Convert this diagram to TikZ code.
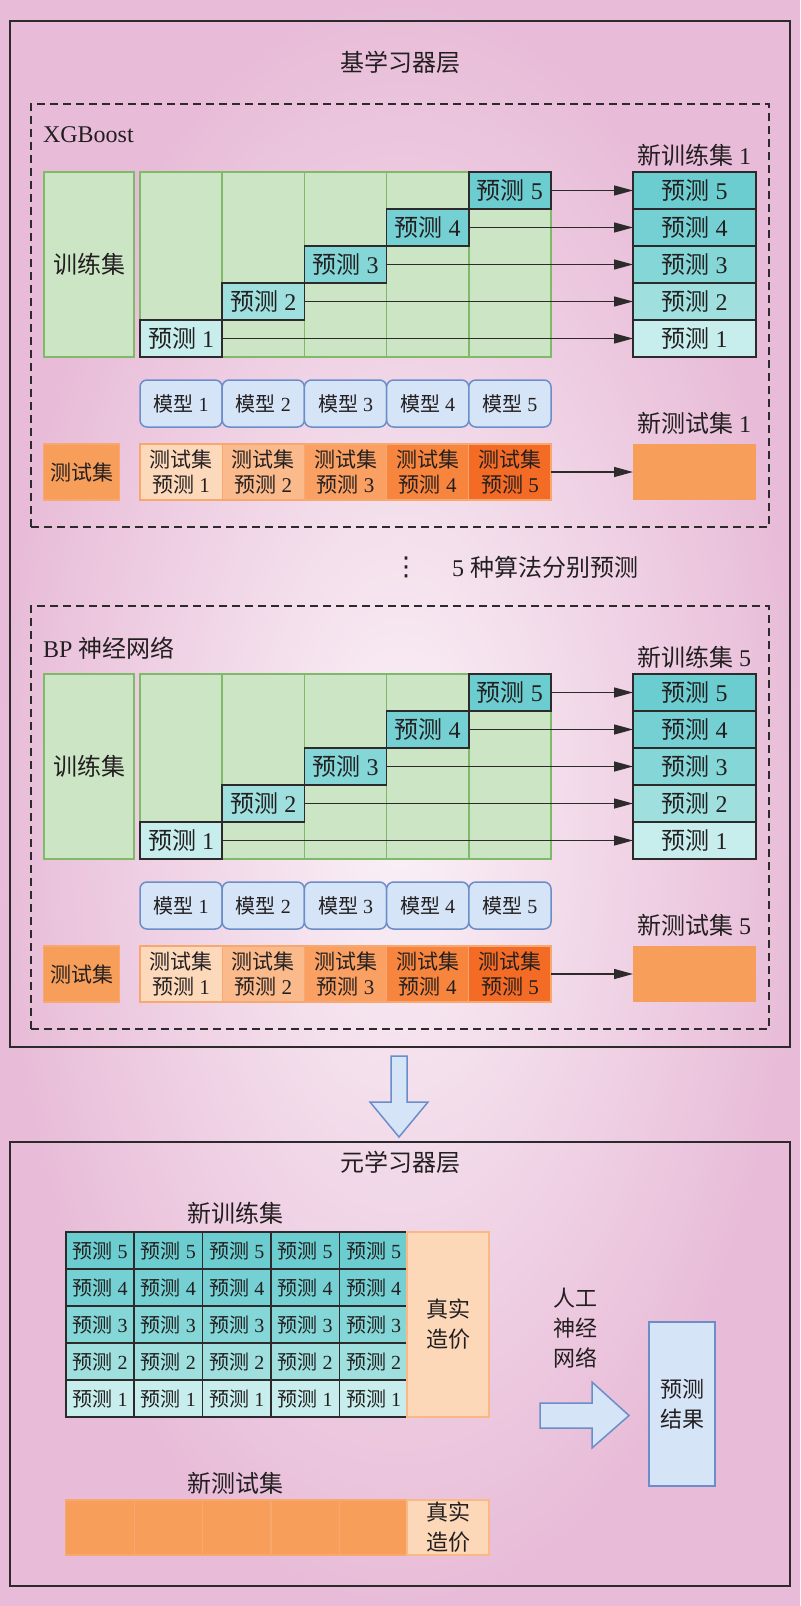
\documentclass[tikz,border=0pt]{standalone}
\usepackage{fontspec}
\setmainfont{Liberation Serif}
\newfontfamily\cjk{Noto Sans CJK SC}
\newfontfamily\dejavu{DejaVu Sans}
\usetikzlibrary{arrows.meta}
\definecolor{txt}{RGB}{35,31,32}
\definecolor{bgin}{RGB}{250,242,247}
\definecolor{bgout}{RGB}{232,188,216}
\definecolor{gfill}{RGB}{203,229,197}
\definecolor{gline}{RGB}{126,186,104}
\definecolor{pc1}{RGB}{199,238,236}
\definecolor{pc2}{RGB}{159,223,222}
\definecolor{pc3}{RGB}{132,214,215}
\definecolor{pc4}{RGB}{116,208,211}
\definecolor{pc5}{RGB}{108,205,208}
\definecolor{mfill}{RGB}{213,228,247}
\definecolor{mline}{RGB}{107,141,200}
\definecolor{tc1}{RGB}{253,217,187}
\definecolor{tc2}{RGB}{250,186,140}
\definecolor{tc3}{RGB}{249,160,98}
\definecolor{tc4}{RGB}{247,133,61}
\definecolor{tc5}{RGB}{244,107,38}
\definecolor{tline}{RGB}{248,168,110}
\definecolor{ofill}{RGB}{247,158,90}
\definecolor{pfill}{RGB}{252,216,185}
\definecolor{pline}{RGB}{249,184,132}
\definecolor{dline}{RGB}{45,42,44}
\newcommand\fsL{\fontsize{12}{14}\selectfont}
\newcommand\fsM{\fontsize{11}{15}\selectfont}
\newcommand\fsT{\fontsize{10.5}{12.5}\selectfont}
\newcommand\fsS{\fontsize{10}{12}\selectfont}
\newcommand\yc[1]{{\cjk 预测}\ #1}
\tikzset{
  every node/.style={text=txt,inner sep=0pt,outer sep=0pt},
  dashbox/.style={draw=dline,line width=0.65pt,dash pattern=on 4pt off 2.5pt},
  solidbox/.style={draw=dline,line width=0.75pt},
  ttl/.style={font=\fsL},
  greenbox/.style={draw=gline,fill=gfill,line width=0.75pt},
  predbox/.style={draw=dline,line width=0.75pt,font=\fsL,minimum height=18.5pt},
  modelbox/.style={draw=mline,fill=mfill,line width=0.75pt,rounded corners=3.5pt,font=\fsS,minimum width=41.1pt,minimum height=23.5pt},
  testbox/.style={draw=tline,line width=0.6pt,font=\fsT,align=center,minimum width=41.1pt,minimum height=28pt},
  arr/.style={draw=dline,line width=0.7pt,-{Triangle[length=9.5pt,width=5pt]}},
  gridcell/.style={draw=dline,line width=0.75pt,font=\fsS,minimum width=34.2pt,minimum height=18.5pt},
  bluebox/.style={draw=mline,fill=mfill,line width=0.75pt},
}
\newcommand\baseblock[5]{%
\begin{scope}[shift={(0,#2)}]
\node[dashbox,minimum width=369pt,minimum height=211.5pt] (db#1) at (400,315.5) {};
\node[ttl,anchor=west] (ti#1) at (43,#4) {#3};
\node[greenbox,minimum width=45pt,minimum height=92.5pt,font=\fsL] (tr#1) at (89,264.5) {{\cjk 训练集}};
\foreach \k in {1,...,5}{
  \node[greenbox,minimum width=41.1pt,minimum height=92.5pt] (col#1-\k) at (98.9+82.2*\k,264.5) {};
}
\foreach \k in {1,...,5}{
  \node[predbox,fill=pc\k,minimum width=41.1pt] (sp#1-\k) at (98.9+82.2*\k,375.5-37*\k) {\yc{\k}};
  \node[predbox,fill=pc\k,minimum width=61.5pt] (np#1-\k) at (694.5,375.5-37*\k) {\yc{\k}};
  \draw[arr] (sp#1-\k.east) -- (np#1-\k.west);
  \node[modelbox] (m#1-\k) at (98.9+82.2*\k,403.5) {{\cjk 模型}\ \k};
  \node[testbox,fill=tc\k] (tc#1-\k) at (98.9+82.2*\k,472) {{\cjk 测试集}\\\yc{\k}};
}
\node[ttl] (nl#1) at (694,155) {{\cjk 新训练集}\ #5};
\node[draw=tline,fill=ofill,line width=0.6pt,minimum width=38pt,minimum height=28pt,font=\fsT] (ts#1) at (81.5,472) {{\cjk 测试集}};
\node[ttl] (ntl#1) at (694,423) {{\cjk 新测试集}\ #5};
\node[fill=ofill,minimum width=61.5pt,minimum height=28pt] (nt#1) at (694.5,472) {};
\draw[arr] (tc#1-5.east) -- (nt#1.west);
\end{scope}}
\begin{document}
\begin{tikzpicture}[x=0.5pt,y=-0.5pt]
\useasboundingbox (0,0) rectangle (800,1606);
\shade[inner color=bgin,outer color=bgout] (0,0) rectangle (800,1606);
% top box
\node[solidbox,minimum width=390pt,minimum height=513pt] (topbox) at (400,534) {};
\node[ttl] (toptitle) at (400,62) {{\cjk 基学习器层}};
\baseblock{a}{0}{XGBoost}{135}{1}
\node[font=\dejavu\fontsize{13}{14}\selectfont] (dots) at (406,567) {⋮};
\node[ttl,anchor=west] (algs) at (452,567) {5\ {\cjk 种算法分别预测}};
\baseblock{b}{502}{BP\ {\cjk 神经网络}}{146}{5}
% down arrow
\draw[bluebox] (391,1056) -- (407,1056) -- (407,1102) -- (428,1102) -- (399,1137) -- (370,1102) -- (391,1102) -- cycle;
% bottom box
\node[solidbox,minimum width=390pt,minimum height=222pt] (botbox) at (400,1364) {};
\node[ttl] (bottitle) at (400,1162) {{\cjk 元学习器层}};
\node[ttl] (ntrain) at (235,1213) {{\cjk 新训练集}};
\foreach \c in {1,...,5}{
  \foreach \r in {1,...,5}{
    \node[gridcell,fill=pc\r] (g\c-\r) at (31.6+68.4*\c,1435.5-37*\r) {\yc{\r}};
  }
  \node[draw=tline,fill=ofill,line width=0.6pt,minimum width=34.2pt,minimum height=27.5pt] (bt\c) at (31.6+68.4*\c,1527.5) {};
}
\node[draw=pline,fill=pfill,line width=0.6pt,minimum width=41pt,minimum height=92.5pt,font=\fsM,align=center] (true1) at (448,1324.5) {{\cjk 真实}\\{\cjk 造价}};
\node[ttl] (ntest) at (235,1483) {{\cjk 新测试集}};
\node[draw=pline,fill=pfill,line width=0.6pt,minimum width=41pt,minimum height=27.5pt,font=\fsM,align=center] (true2) at (448,1527.5) {{\cjk 真实}\\{\cjk 造价}};
\node[font=\fsM,align=center] (ann) at (575,1328) {{\cjk 人工}\\{\cjk 神经}\\{\cjk 网络}};
\draw[bluebox] (540,1403) -- (592,1403) -- (592,1382) -- (629,1415.5) -- (592,1448) -- (592,1428) -- (540,1428) -- cycle;
\node[bluebox,minimum width=33pt,minimum height=82pt,font=\fsM,align=center] (res) at (682,1404) {{\cjk 预测}\\{\cjk 结果}};
\end{tikzpicture}
\end{document}
